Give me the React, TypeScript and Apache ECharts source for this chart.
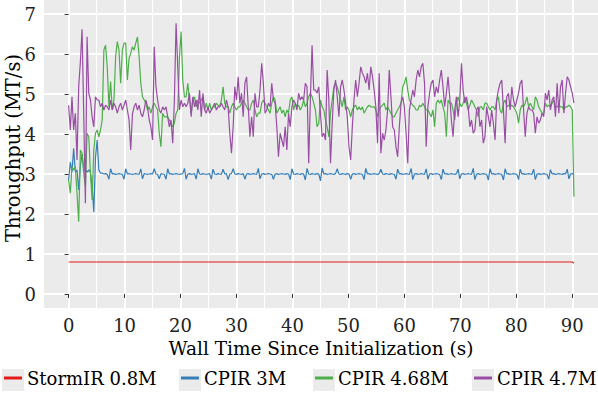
import React, { useEffect, useRef } from "react";
import * as echarts from "echarts";

// Sampling interval of the throughput traces (seconds)
const SAMPLE_STEP_S = 0.3;

const X_TICKS = [0, 10, 20, 30, 40, 50, 60, 70, 80, 90];
const X_MINOR = [5, 15, 25, 35, 45, 55, 65, 75, 85];
const Y_TICKS = [0, 1, 2, 3, 4, 5, 6, 7];

const SERIES_NAMES = ["StormIR 0.8M", "CPIR 3M", "CPIR 4.68M", "CPIR 4.7M"];
const Y_TITLE = "Throughput (MT/s)";
const X_TITLE = "Wall Time Since Initialization (s)";

const STORMIR_TIMES = [0, 90, 90.3];
const STORMIR_08M = [0.8, 0.8, 0.77];

const CPIR_3M = [
  2.85, 3.30, 3.05, 3.64, 3.05, 3.10, 2.60, 3.20, 3.50, 3.10,
  3.10, 3.05, 3.10, 3.05, 2.70, 2.05, 3.40, 3.85, 3.10, 3.02,
  3.02, 3.00, 3.01, 2.99, 2.87, 3.13, 3.00, 3.01, 2.99, 3.00,
  3.01, 3.00, 2.99, 2.87, 3.13, 3.00, 3.01, 3.00, 2.99, 3.00,
  3.01, 3.00, 2.99, 3.13, 2.88, 3.01, 3.00, 2.99, 3.00, 3.01,
  3.00, 3.13, 3.00, 2.99, 2.88, 3.01, 3.00, 2.99, 2.87, 3.13,
  3.00, 3.01, 2.99, 3.00, 3.01, 3.00, 2.99, 3.00, 3.01, 3.14,
  2.87, 3.00, 3.01, 2.99, 3.00, 3.01, 2.87, 3.13, 3.00, 2.99,
  3.01, 3.00, 2.99, 3.00, 3.01, 2.87, 3.12, 3.00, 2.99, 3.01,
  3.00, 2.99, 3.12, 3.00, 3.01, 2.86, 3.00, 3.01, 3.13, 3.00,
  2.99, 3.01, 3.00, 2.99, 3.01, 2.87, 3.00, 3.01, 2.99, 3.00,
  3.01, 3.00, 2.99, 3.14, 2.88, 3.00, 3.01, 2.99, 3.00, 3.01,
  3.00, 2.99, 2.87, 3.00, 3.01, 2.99, 3.00, 3.01, 3.00, 2.99,
  3.01, 3.00, 2.86, 3.13, 3.00, 2.99, 3.01, 3.00, 2.99, 3.01,
  3.00, 2.85, 3.14, 3.00, 2.99, 3.01, 3.00, 2.99, 3.01, 3.00,
  2.83, 3.15, 3.00, 3.01, 2.99, 3.00, 3.01, 3.00, 2.99, 3.01,
  3.13, 3.00, 2.99, 3.01, 3.00, 2.99, 3.01, 3.00, 2.87, 3.00,
  3.01, 2.99, 3.00, 3.01, 3.00, 2.99, 2.86, 3.14, 3.00, 3.01,
  2.99, 3.00, 3.01, 3.00, 2.99, 3.01, 3.12, 3.00, 2.99, 3.01,
  3.00, 2.99, 3.01, 3.00, 2.99, 2.87, 3.12, 3.00, 3.01, 2.99,
  3.00, 3.01, 3.00, 2.99, 3.14, 2.86, 3.00, 3.01, 2.99, 3.00,
  3.01, 3.00, 2.99, 3.13, 2.87, 3.00, 3.01, 2.99, 3.00, 3.01,
  3.00, 2.99, 2.86, 3.12, 3.00, 3.01, 2.99, 3.00, 3.01, 3.00,
  2.99, 3.01, 3.12, 2.88, 3.00, 3.01, 2.99, 3.00, 3.01, 3.00,
  2.99, 3.14, 2.86, 3.00, 3.01, 2.99, 3.00, 3.01, 3.00, 2.99,
  2.85, 3.13, 3.00, 3.01, 2.99, 3.00, 3.01, 3.00, 2.99, 2.85,
  3.13, 3.00, 3.01, 2.99, 3.00, 3.01, 3.00, 2.99, 2.86, 3.12,
  3.00, 3.01, 2.99, 3.00, 3.01, 3.00, 2.99, 3.12, 2.86, 3.00,
  3.01, 2.99, 3.00, 3.01, 3.00, 2.99, 2.87, 3.11, 3.00, 3.01,
  2.99, 3.00, 3.01, 3.00, 2.99, 3.01, 3.00, 3.12, 2.88, 3.00,
  3.01, 3.00,
];

const CPIR_468M = [
  2.85, 2.52, 3.18, 3.10, 3.18, 2.52, 1.81, 3.60, 3.52, 3.02,
  2.68, 4.02, 3.93, 3.02, 2.35, 3.60, 4.02, 4.10, 3.93, 4.10,
  4.35, 6.10, 6.22, 5.68, 4.68, 5.31, 4.60, 4.85, 5.93, 6.31,
  6.10, 5.27, 6.10, 6.27, 6.27, 5.35, 5.89, 6.02, 6.18, 6.10,
  6.27, 6.43, 5.93, 5.27, 4.93, 4.85, 4.77, 4.60, 4.68, 4.52,
  4.68, 4.77, 4.68, 4.60, 4.02, 3.68, 4.52, 4.43,
  4.43, 4.43, 4.35, 4.27, 4.18, 4.27, 4.52, 4.60, 5.90, 6.56,
  5.35, 4.93, 4.93, 5.27, 4.85, 4.52, 4.85, 4.93, 4.68, 4.85,
  4.77, 4.85, 4.93, 4.60, 4.77, 4.60, 4.77, 4.60, 4.68, 4.68,
  4.77, 4.72, 4.68, 4.85, 5.18, 4.77, 4.68, 4.68, 4.52, 4.68,
  4.77, 4.68, 4.60, 4.68, 4.68, 4.77, 4.85, 4.77, 4.68, 4.60,
  4.60, 4.77, 4.85, 4.60, 4.43, 4.52, 4.52, 4.77, 4.85, 4.77,
  4.68, 4.60, 4.52, 4.77, 4.93, 4.85,
  4.52, 4.60, 4.68, 4.52, 4.60, 4.43, 4.60, 4.52, 4.85, 4.93,
  4.60, 4.77, 4.68, 4.72, 4.60, 4.68, 4.85, 4.68, 4.77, 4.93,
  5.02, 4.93, 4.77, 4.60, 4.18, 4.27, 4.85, 4.68, 4.60, 4.35,
  4.18, 3.93, 4.52, 4.85, 5.18, 5.27, 5.18, 5.02, 4.85, 4.68,
  4.93, 4.60, 4.68, 4.60, 4.43, 4.60, 4.68, 4.72, 4.60, 4.68,
  4.60, 4.68, 4.52, 4.60, 4.68, 4.72, 4.68, 4.68, 4.68, 4.60,
  4.43, 4.60,
  4.68, 4.72, 4.77, 4.60, 4.68, 4.60, 4.52, 4.43, 4.43, 4.52,
  4.60, 4.68, 4.77, 5.18, 5.27, 5.43, 5.10, 4.85, 4.77, 4.72,
  4.68, 4.60, 4.60, 4.72, 4.68, 4.77, 4.68, 4.60, 4.60, 4.52,
  4.43, 4.60, 4.18, 4.77, 4.85, 4.77, 4.85, 4.68, 4.52, 3.93,
  4.85, 4.77, 4.77, 4.60, 4.35, 4.77, 4.93, 4.77, 4.68, 4.77,
  4.93, 4.77, 4.60, 4.72, 4.85, 4.77, 4.68, 4.60, 4.43, 4.68,
  4.68, 4.60,
  4.77, 4.77, 4.68, 4.60, 4.68, 4.68, 4.60, 4.85, 4.93, 4.60,
  4.52, 4.77, 4.85, 4.68, 4.72, 4.68, 4.72, 4.68, 4.60, 4.52,
  4.27, 4.60, 4.72, 4.68, 4.77, 4.93, 4.68, 4.77, 4.68, 4.60,
  4.93, 4.85, 4.68, 4.60, 4.52, 4.52, 4.77, 4.68, 4.72, 4.68,
  4.77, 4.85, 4.68, 4.68, 4.72, 4.68, 4.68, 4.60, 4.68, 4.68,
  4.72, 4.68, 4.60, 2.43,
];

const CPIR_47M = [
  4.72, 4.10, 4.93, 4.10, 4.52, 3.35, 5.18, 5.80, 6.62, 4.50,
  2.27, 6.43, 5.02, 4.85, 4.43, 4.18, 4.93, 4.85, 4.85, 4.68,
  4.77, 4.60, 4.72, 4.68, 4.60, 4.85, 4.60, 4.77, 4.68, 4.52,
  4.68, 4.77, 4.60, 4.72, 4.85, 4.60, 4.35, 3.60, 4.50, 4.68,
  4.77, 4.60, 4.72, 4.52, 4.43, 4.60, 4.85, 4.68, 4.35, 4.18,
  3.85, 6.18, 5.20, 4.85, 4.60, 4.52, 4.68, 4.60,
  4.68, 4.43, 4.18, 4.35, 3.77, 4.85, 6.77, 5.68, 4.60, 4.85,
  4.68, 4.77, 4.68, 4.77, 5.02, 4.43, 4.93, 4.68, 4.85, 4.60,
  5.10, 4.43, 5.02, 4.60, 4.52, 4.68, 4.52, 4.60, 4.68, 4.77,
  4.60, 4.68, 4.68, 4.77, 4.68, 4.60, 4.85, 4.68, 4.02, 3.52,
  4.18, 5.18, 4.85, 5.43, 4.77, 5.02, 4.43, 5.27, 5.43, 4.68,
  3.93, 4.43, 3.93, 5.02, 4.68, 4.68, 5.10, 5.77, 5.27, 4.52,
  4.60, 4.77, 4.68, 5.27, 4.85, 4.77,
  4.18, 3.43, 4.02, 3.85, 3.68, 4.18, 3.60, 4.52, 4.18, 4.68,
  4.85, 4.77, 4.60, 5.02, 4.85, 4.93, 4.85, 5.27, 5.18, 3.27,
  4.85, 6.22, 5.10, 5.10, 5.02, 5.18, 4.52, 3.93, 4.02, 3.85,
  5.60, 4.85, 3.27, 4.27, 5.10, 5.35, 4.93, 4.43, 5.18, 5.35,
  5.10, 4.77, 4.43, 3.68, 3.35, 4.18, 4.85, 5.35, 4.93, 5.27,
  5.68, 5.52, 5.43, 5.27, 5.52, 5.10, 5.68, 5.43, 5.10, 4.68,
  3.77, 5.52,
  3.52, 4.02, 3.85, 4.10, 4.60, 5.60, 4.93, 4.18, 4.10, 3.68,
  3.43, 4.18, 4.77, 4.93, 4.68, 4.02, 3.27, 4.60, 4.85, 5.10,
  4.93, 5.35, 5.60, 5.43, 5.68, 5.77, 5.27, 3.68, 4.68, 5.02,
  5.27, 5.35, 4.93, 5.18, 5.02, 5.35, 5.60, 5.18, 4.68, 5.02,
  5.43, 4.93, 4.35, 3.93, 4.60, 4.93, 4.43, 4.85, 5.77, 5.10,
  4.77, 4.93, 4.68, 4.18, 4.35, 4.02, 4.10, 4.60, 4.68, 4.18,
  4.35, 3.77,
  3.93, 4.68, 4.43, 4.18, 4.60, 4.27, 3.85, 4.85, 5.10, 5.27,
  5.35, 4.60, 3.77, 4.93, 5.02, 4.60, 5.18, 4.85, 4.68, 4.85,
  5.02, 5.27, 5.35, 4.60, 3.93, 4.52, 4.68, 4.60, 4.60, 4.52,
  4.02, 4.43, 4.27, 4.35, 4.52, 4.43, 5.02, 4.85, 5.10, 4.60,
  4.85, 4.93, 4.43, 5.27, 4.52, 5.18, 5.35, 4.52, 5.02, 5.43,
  5.35, 5.18, 5.02, 4.77,
];

const COLORS = ["#E41A1C", "#377EB8", "#4DAF4A", "#984EA3"];
const FONT = "'DejaVu Serif', serif";
const LEGEND_KEY_LEFT = [2, 179, 313, 472];

function sampled(values: number[]) {
  return values.map((v, i) => [Number((i * SAMPLE_STEP_S).toFixed(2)), v]);
}

export default function App() {
  const ref = useRef<HTMLDivElement>(null);
  useEffect(() => {
    document.body.style.margin = "0";
    if (!ref.current) return;
    const chart = echarts.init(ref.current, undefined, { renderer: "svg" });
    const seriesData = [
      STORMIR_TIMES.map((t, i) => [t, STORMIR_08M[i]]),
      sampled(CPIR_3M),
      sampled(CPIR_468M),
      sampled(CPIR_47M),
    ];
    const option: any = {
      animation: false,
      backgroundColor: "#ffffff",
      textStyle: { fontFamily: FONT },
      grid: {
        left: 44,
        right: 0,
        top: 0,
        bottom: 85,
        show: true,
        containLabel: false,
        outerBoundsMode: "none",
        backgroundColor: "#EBEBEB",
        borderWidth: 0,
      },
      xAxis: [
        {
          type: "value",
          min: -4.4,
          max: 94.6,
          position: "bottom",
          axisLine: { show: false },
          axisTick: {
            show: true,
            length: 4,
            customValues: X_TICKS,
            lineStyle: { color: "#333333", width: 1 },
          },
          axisLabel: {
            customValues: X_TICKS,
            fontSize: 18,
            color: "#222222",
            margin: 8,
            fontFamily: FONT,
          },
          splitLine: { show: true, lineStyle: { color: "#ffffff", width: 2 } },
          name: X_TITLE,
          nameLocation: "middle",
          nameGap: 31,
          nameTextStyle: { fontSize: 18.5, color: "#000000", fontFamily: FONT },
        },
        {
          type: "value",
          min: -4.4,
          max: 94.6,
          position: "bottom",
          axisLine: { show: false },
          axisTick: { show: false, customValues: X_MINOR },
          axisLabel: { show: false, customValues: X_MINOR },
          splitLine: { show: true, lineStyle: { color: "#ffffff", width: 1 } },
        },
      ],
      yAxis: {
        type: "value",
        min: -0.35,
        max: 7.35,
        axisLine: { show: false },
        axisTick: {
          show: true,
          length: 4,
          customValues: Y_TICKS,
          lineStyle: { color: "#333333", width: 1 },
        },
        axisLabel: {
          customValues: Y_TICKS,
          fontSize: 18,
          color: "#222222",
          margin: 8,
          fontFamily: FONT,
        },
        splitLine: { show: true, lineStyle: { color: "#ffffff", width: 2 } },
      },
      legend: SERIES_NAMES.map((name, i) => ({
        data: [name],
        left: LEGEND_KEY_LEFT[i] + 2,
        top: 369,
        icon: "rect",
        itemWidth: 18,
        itemHeight: 3,
        padding: 0,
        selectedMode: false,
        textStyle: { fontSize: 18, color: "#000000", fontFamily: FONT },
      })),
      graphic: [
        ...LEGEND_KEY_LEFT.map((x) => ({
          type: "rect",
          z: -1,
          shape: { x, y: 369, width: 22, height: 22 },
          style: { fill: "#EBEBEB" },
        })),
        {
          type: "text",
          x: 13,
          y: 148,
          rotation: Math.PI / 2,
          style: {
            text: Y_TITLE,
            fontSize: 19.5,
            fontFamily: FONT,
            fill: "#000000",
            align: "center",
            verticalAlign: "middle",
          },
        },
      ],
      series: SERIES_NAMES.map((name, i) => ({
        type: "line",
        name,
        data: seriesData[i],
        xAxisIndex: 0,
        showSymbol: false,
        symbol: "none",
        lineStyle: { width: 1.2, color: COLORS[i] },
        itemStyle: { color: COLORS[i] },
        z: 2 + i,
      })),
    };
    chart.setOption(option);
    return () => chart.dispose();
  }, []);
  return <div ref={ref} style={{ width: 598, height: 393 }} />;
}
